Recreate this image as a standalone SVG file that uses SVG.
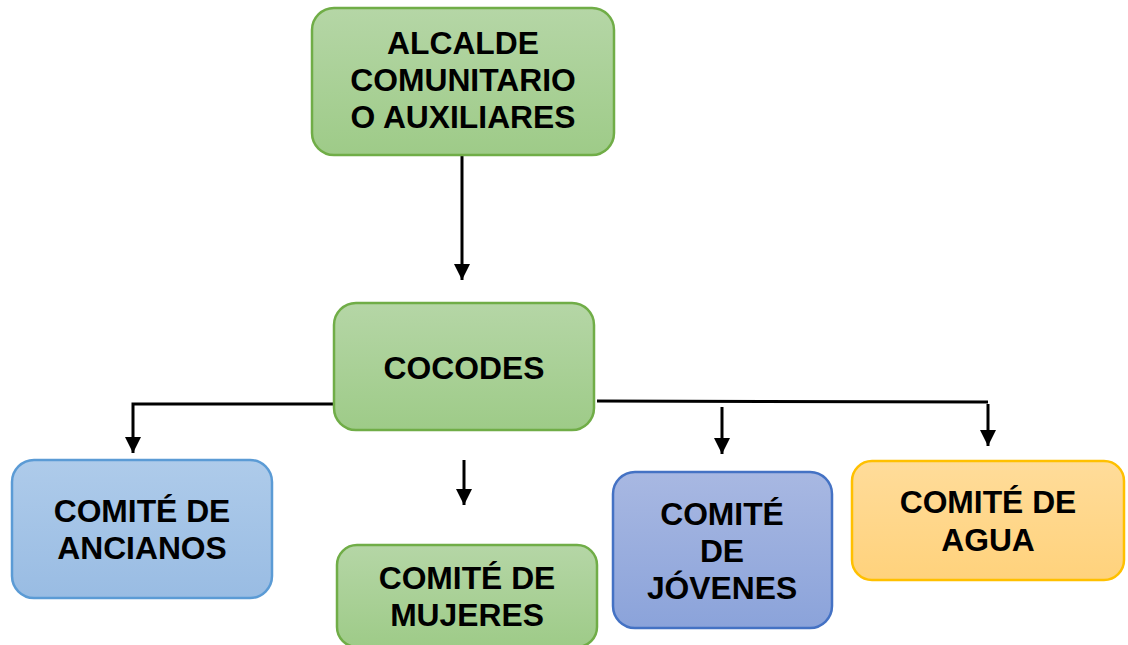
<svg xmlns="http://www.w3.org/2000/svg" width="1128" height="645" viewBox="0 0 1128 645">
<defs>
<linearGradient id="gGreen" x1="0" y1="0" x2="0" y2="1"><stop offset="0" stop-color="#b5d6a6"/><stop offset="1" stop-color="#9ecb88"/></linearGradient>
<linearGradient id="gBlue" x1="0" y1="0" x2="0" y2="1"><stop offset="0" stop-color="#aecbea"/><stop offset="1" stop-color="#99bce3"/></linearGradient>
<linearGradient id="gIndigo" x1="0" y1="0" x2="0" y2="1"><stop offset="0" stop-color="#a8b8e2"/><stop offset="1" stop-color="#8ba3da"/></linearGradient>
<linearGradient id="gGold" x1="0" y1="0" x2="0" y2="1"><stop offset="0" stop-color="#ffdc9a"/><stop offset="1" stop-color="#ffd27c"/></linearGradient>
<marker id="ah" viewBox="0 0 10 10" refX="10" refY="5" markerWidth="5.5" markerHeight="5.5" markerUnits="strokeWidth" orient="auto"><path d="M0,0 L10,5 L0,10 Z" fill="#000"/></marker>
</defs>
<style>
.green{fill:url(#gGreen);stroke:#70ad47;stroke-width:2.5}
.blue{fill:url(#gBlue);stroke:#5b9bd5;stroke-width:2.5}
.indigo{fill:url(#gIndigo);stroke:#4472c4;stroke-width:2.5}
.gold{fill:url(#gGold);stroke:#ffc000;stroke-width:2.5}
text{font-family:"Liberation Sans",Arial,sans-serif;font-weight:bold;font-size:31.8px;fill:#000;text-anchor:middle}
.c{fill:none;stroke:#000;stroke-width:3}
</style>
<g id="connectors">
<line class="c" x1="462" y1="155" x2="462" y2="280" marker-end="url(#ah)"/>
<polyline class="c" points="336,404 133,404 133,453" marker-end="url(#ah)"/>
<line class="c" x1="464" y1="460" x2="464" y2="505" marker-end="url(#ah)"/>
<line class="c" x1="597" y1="401" x2="988" y2="402"/>
<line class="c" x1="722" y1="407" x2="722" y2="454" marker-end="url(#ah)"/>
<line class="c" x1="988" y1="404" x2="988" y2="446" marker-end="url(#ah)"/>
</g>
<g id="alcalde">
<rect class="green" x="312" y="8" width="302" height="147" rx="22"/>
<text x="463" y="54">ALCALDE</text>
<text x="463" y="91">COMUNITARIO</text>
<text x="463" y="128">O AUXILIARES</text>
</g>
<g id="cocodes">
<rect class="green" x="334" y="303" width="260" height="127" rx="22"/>
<text x="464" y="379">COCODES</text>
</g>
<g id="ancianos">
<rect class="blue" x="12" y="460" width="260" height="138" rx="22"/>
<text x="142" y="522">COMITÉ DE</text>
<text x="142" y="559">ANCIANOS</text>
</g>
<g id="mujeres">
<rect class="green" x="337" y="545" width="260" height="102" rx="20"/>
<text x="467" y="589">COMITÉ DE</text>
<text x="467" y="626">MUJERES</text>
</g>
<g id="jovenes">
<rect class="indigo" x="613" y="472" width="219" height="156" rx="22"/>
<text x="722" y="525">COMITÉ</text>
<text x="722" y="562">DE</text>
<text x="722" y="599">JÓVENES</text>
</g>
<g id="agua">
<rect class="gold" x="852" y="461" width="272" height="119" rx="20"/>
<text x="988" y="513">COMITÉ DE</text>
<text x="988" y="551">AGUA</text>
</g>
</svg>
